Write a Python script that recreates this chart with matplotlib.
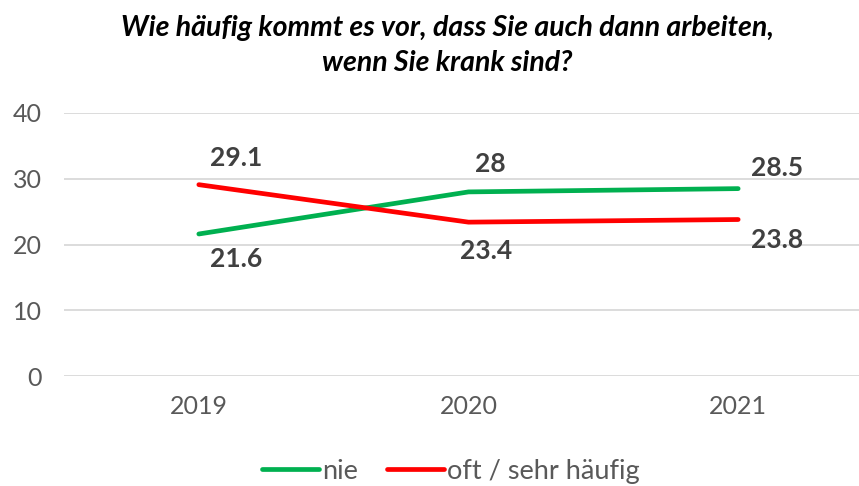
import matplotlib.pyplot as plt

years = ["2019", "2020", "2021"]
nie = [21.6, 28, 28.5]
oft = [29.1, 23.4, 23.8]
nie_labels = ["21.6", "28", "28.5"]
oft_labels = ["29.1", "23.4", "23.8"]

plt.rcParams["font.family"] = ["Lato", "DejaVu Sans"]

fig = plt.figure(figsize=(8.59, 4.86), dpi=100)
ax = fig.add_axes([0.0745, 0.2263, 0.9418, 0.5412])

x = list(range(len(years)))
ax.plot(x, nie, color="#00B050", lw=3.4, solid_capstyle="round", label="nie")
ax.plot(x, oft, color="#FF0000", lw=3.4, solid_capstyle="round", label="oft / sehr häufig")

# label offsets in points (dx, dy)
nie_off = [(27, -18), (16, 20), (28, 15)]
oft_off = [(27, 19), (13, -21), (28, -15)]
for i in x:
    ax.annotate(nie_labels[i], (i, nie[i]), xytext=nie_off[i], textcoords="offset points",
                ha="center", va="center", fontsize=19, fontweight="bold", color="#404040")
    ax.annotate(oft_labels[i], (i, oft[i]), xytext=oft_off[i], textcoords="offset points",
                ha="center", va="center", fontsize=19, fontweight="bold", color="#404040")

ax.set_xlim(-0.5, 2.5)
ax.set_ylim(0, 40)
ax.set_yticks([0, 10, 20, 30, 40])
ax.set_xticks(x)
ax.set_xticklabels(years)
ax.grid(axis="y", color="#D9D9D9", lw=1.3)
ax.set_axisbelow(True)
for s in ax.spines.values():
    s.set_visible(False)
ax.tick_params(length=0, labelsize=18, labelcolor="#595959")
ax.tick_params(axis="x", pad=14)
ax.tick_params(axis="y", pad=16)

fig.text(0.521, 0.907, "Wie häufig kommt es vor, dass Sie auch dann arbeiten,\nwenn Sie krank sind?",
         ha="center", va="center", fontsize=20.5, fontweight="bold", fontstyle="italic",
         color="black", linespacing=1.42)

fig.legend(loc="center", bbox_to_anchor=(0.525, 0.03), ncol=2, frameon=False,
           fontsize=19.5, labelcolor="#595959", handlelength=2.1, handletextpad=0.1,
           columnspacing=1.1)

fig.savefig("out.png", dpi=100)
